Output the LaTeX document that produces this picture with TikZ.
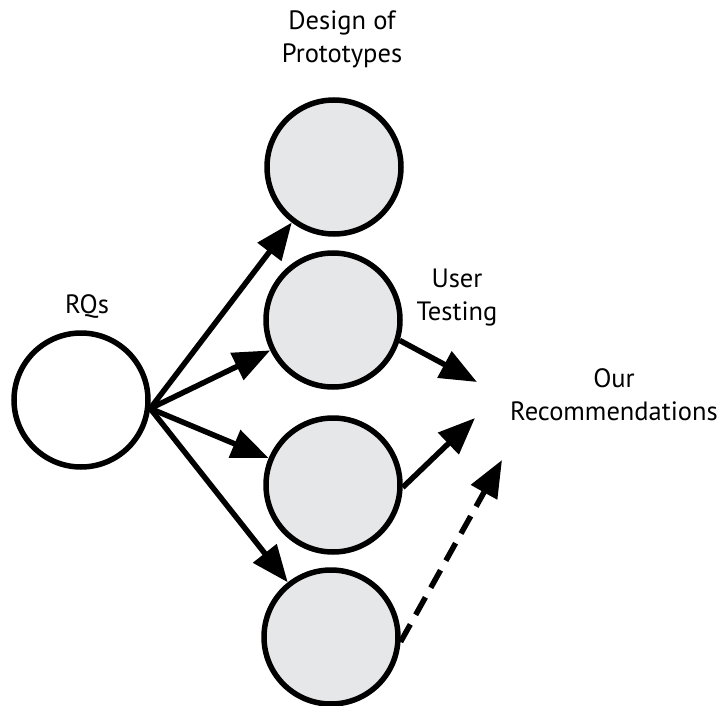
\documentclass[tikz,border=0pt]{standalone}
\usepackage{fontspec}
\setmainfont{PT Sans}
\usetikzlibrary{arrows.meta}
\definecolor{circfill}{HTML}{E6E7E8}
\begin{document}
\begin{tikzpicture}[x=1pt,y=-1pt,
  bub/.style={circle,draw=black,line width=5.5pt,minimum size=134pt,inner sep=0pt,fill=circfill},
  conn/.style={line width=5.5pt,-{Triangle[length=37pt,width=29pt]}},
  lbl/.style={font=\fontsize{26.5}{33}\selectfont,align=center,inner sep=0pt}]
\useasboundingbox[fill=white] (0,0) rectangle (723,706);
\node[bub,fill=white] (rq) at (81,400) {};
\node[bub] (c1) at (334,167) {};
\node[bub] (c2) at (333,320) {};
\node[bub] (c3) at (333,485) {};
\node[bub] (c4) at (331,637) {};
\coordinate (hub) at (rq.-7);
\draw[conn] (hub) -- (c1);
\draw[conn] (hub) -- (c2);
\draw[conn] (hub) -- (c3);
\draw[conn] (hub) -- (c4);
\coordinate (t2) at (477,382);
\coordinate (t3) at (475,418);
\coordinate (t4) at (502,460);
\draw[conn] (c2.-17) -- (t2);
\draw[conn] (c3.-2) -- (t3);
\draw[conn,dash pattern=on 20pt off 11pt] (c4.-4) -- (t4);
\node[lbl,anchor=base] (lrq) at (87,313) {RQs};
\node[lbl,anchor=base] (ldes) at (342,63) {Design of\\Prototypes};
\node[lbl,anchor=base] (lut) at (457,320) {User\\Testing};
\node[lbl,anchor=base] (lrec) at (614,420) {Our\\Recommendations};
\end{tikzpicture}
\end{document}
